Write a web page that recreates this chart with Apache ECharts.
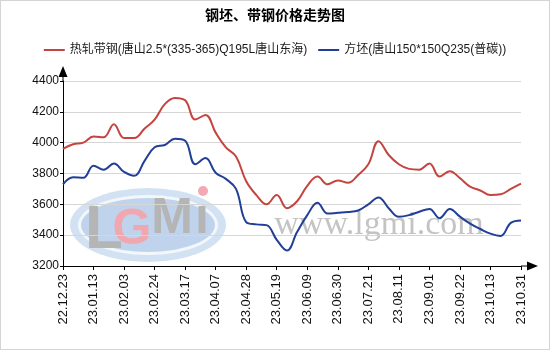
<!DOCTYPE html>
<html>
<head>
<meta charset="utf-8">
<script src="https://cdn.jsdelivr.net/npm/echarts@6/dist/echarts.min.js"></script>
<style>
  html, body { margin: 0; padding: 0; background: #fff; }
  #wrap { position: relative; width: 550px; height: 350px; background: #fff; }
  #chart { position: absolute; left: 0; top: 0; width: 550px; height: 350px; z-index: 2; }
  /* oval emblem behind the plot area */
  .badge-outer {
    position: absolute; left: 70px; top: 188px; width: 156px; height: 74px;
    border-radius: 50%; background: #d3e2f3; z-index: 1;
  }
  .badge-inner {
    position: absolute; left: 78px; top: 195px; width: 140px; height: 60px;
    box-sizing: border-box; border-radius: 50%; background: #bfd4ec;
    border: 3px solid #f2f7fc; z-index: 1;
  }
  .frame {
    position: absolute; left: 0; top: 0; width: 550px; height: 350px;
    box-sizing: border-box; border: 1px solid #d4d4d4; z-index: 3; pointer-events: none;
  }
</style>
</head>
<body>
<div id="wrap">
  <div class="badge-outer"></div>
  <div class="badge-inner"></div>
  <div id="chart"></div>
  <div class="frame"></div>
</div>
<script>
// Weekly quotation dates (yy.mm.dd)
const dates = [
  '22.12.23', '22.12.30', '23.01.06', '23.01.13', '23.01.20', '23.01.27',
  '23.02.03', '23.02.10', '23.02.17', '23.02.24', '23.03.03', '23.03.10',
  '23.03.17', '23.03.24', '23.03.31', '23.04.07', '23.04.14', '23.04.21',
  '23.04.28', '23.05.05', '23.05.12', '23.05.19', '23.05.26', '23.06.02',
  '23.06.09', '23.06.16', '23.06.23', '23.06.30', '23.07.07', '23.07.14',
  '23.07.21', '23.07.28', '23.08.04', '23.08.11', '23.08.18', '23.08.25',
  '23.09.01', '23.09.08', '23.09.15', '23.09.22', '23.09.29', '23.10.06',
  '23.10.13', '23.10.20', '23.10.27', '23.10.31'
];

// Hot-rolled strip, Tangshan (yuan/t)
const stripName = '热轧带钢(唐山2.5*(335-365)Q195L唐山东海)';
const stripPrice = [
  3960, 3990, 4000, 4040, 4035, 4120, 4030, 4030, 4090, 4150, 4250, 4290,
  4275, 4150, 4180, 4065, 3970, 3910, 3750, 3660, 3600, 3660, 3575, 3620,
  3720, 3780, 3730, 3755, 3740, 3790, 3860, 4010, 3920, 3860, 3830, 3825,
  3865, 3780, 3815, 3770, 3715, 3690, 3660, 3665, 3700, 3735
];

// Square billet, Tangshan (yuan/t)
const billetName = '方坯(唐山150*150Q235(普碳))';
const billetPrice = [
  3730, 3775, 3772, 3850, 3825, 3865, 3810, 3785, 3880, 3970, 3985, 4025,
  4012, 3860, 3900, 3805, 3765, 3700, 3485, 3470, 3465, 3370, 3300, 3420,
  3530, 3610, 3540, 3545, 3550, 3560, 3600, 3645, 3575, 3520, 3530, 3552,
  3570, 3510, 3570, 3520, 3475, 3440, 3410, 3395, 3480, 3495
];

// Value axis ticks
const yMin = 3200;
const yMax = 4400;
const yStep = 200;

const FONT = '"Liberation Sans", Arial, "Noto Sans CJK SC", sans-serif';
const RED = '#c4443f';
const BLUE = '#213f97';

// Arrow heads with a short stem so the axis line runs on into the tip
const arrowY = 'path://M4.5,0 L9,11 L5,11 L5,15 L4,15 L4,11 L0,11 Z';
const arrowX = 'path://M4.5,0 L9,11 L5,11 L5,17 L4,17 L4,11 L0,11 Z';

const chart = echarts.init(document.getElementById('chart'), null, { renderer: 'canvas' });

chart.setOption({
  backgroundColor: 'transparent',
  animation: false,
  textStyle: { fontFamily: FONT },
  title: {
    text: '钢坯、带钢价格走势图',
    left: 'center',
    top: 9,
    padding: 0,
    textStyle: { fontSize: 14, fontWeight: 'bold', color: '#000', fontFamily: FONT }
  },
  legend: {
    top: 44,
    left: 'center',
    padding: 0,
    itemGap: 11,
    itemWidth: 21,
    itemHeight: 2,
    icon: 'rect',
    textStyle: { fontSize: 12, color: '#1a1a1a', fontFamily: FONT },
    data: [stripName, billetName]
  },
  grid: {
    left: 63,
    right: 29,
    top: 81,
    bottom: 84,
    containLabel: false,
    outerBoundsMode: 'none'
  },
  xAxis: {
    type: 'category',
    data: dates,
    boundaryGap: false,
    axisLine: {
      show: true,
      lineStyle: { color: '#000', width: 1 },
      symbol: ['none', arrowX],
      symbolSize: [9, 17],
      symbolOffset: [0, 8.5]
    },
    axisTick: { show: true, interval: 2, length: 4, lineStyle: { color: '#000' } },
    axisLabel: {
      interval: 2,
      rotate: 90,
      margin: 8,
      fontSize: 13,
      color: '#111',
      fontFamily: FONT
    },
    splitLine: { show: false }
  },
  yAxis: {
    type: 'value',
    min: yMin,
    max: yMax,
    interval: yStep,
    axisLine: {
      show: true,
      lineStyle: { color: '#000', width: 1 },
      symbol: ['none', arrowY],
      symbolSize: [9, 15],
      symbolOffset: [0, 7.5]
    },
    axisTick: { show: true, length: 3, lineStyle: { color: '#000' } },
    axisLabel: {
      margin: 4, fontSize: 12, color: '#111', fontFamily: FONT,
      formatter: (v) => String(v)
    },
    splitLine: { show: true, lineStyle: { color: '#d6d6d6', width: 1 } }
  },
  series: [
    {
      name: stripName,
      type: 'line',
      data: stripPrice,
      smooth: 0.4,
      showSymbol: false,
      color: RED,
      lineStyle: { color: RED, width: 2 },
      z: 3
    },
    {
      name: billetName,
      type: 'line',
      data: billetPrice,
      smooth: 0.4,
      showSymbol: false,
      color: BLUE,
      lineStyle: { color: BLUE, width: 2 },
      z: 3
    }
  ],
  graphic: [
    // Emblem lettering and site address behind the lines
    {
      type: 'text', z: -1, z2: 12, x: 104, y: 231,
      style: { text: 'L', fontSize: 62, fontWeight: 'bold', fontFamily: FONT, fill: '#b5b5b5', align: 'center', verticalAlign: 'middle' }
    },
    {
      type: 'text', z: -1, z2: 12, x: 132, y: 230,
      style: { text: 'G', fontSize: 50, fontWeight: 'bold', fontFamily: FONT, fill: '#f0a7b0', align: 'center', verticalAlign: 'middle' }
    },
    {
      type: 'text', z: -1, z2: 12, x: 172, y: 219,
      style: { text: 'M', fontSize: 50, fontWeight: 'bold', fontFamily: FONT, fill: '#b5b5b5', align: 'center', verticalAlign: 'middle' }
    },
    {
      type: 'text', z: -1, z2: 12, x: 202, y: 219,
      style: { text: 'ı', fontSize: 50, fontWeight: 'bold', fontFamily: FONT, fill: '#b5b5b5', align: 'center', verticalAlign: 'middle' }
    },
    {
      type: 'circle', z: -1, z2: 13,
      shape: { cx: 203, cy: 191, r: 5 },
      style: { fill: '#f2a9b2' }
    },
    {
      type: 'text', z: -1, z2: 12, x: 379, y: 225,
      style: { text: 'www.lgmi.com', fontSize: 34, fontFamily: '"Liberation Serif", "DejaVu Serif", serif', fill: '#c4c4c4', align: 'center', verticalAlign: 'middle' }
    }
  ]
});
</script>
</body>
</html>
